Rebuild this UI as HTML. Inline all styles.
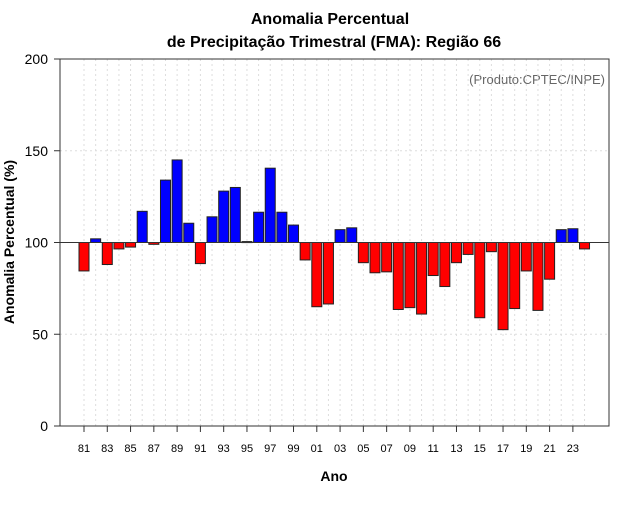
<!DOCTYPE html>
<html><head><meta charset="utf-8"><style>
body{margin:0;background:#fff;font-family:"Liberation Sans",sans-serif}
</style></head><body>
<svg id="c" width="640" height="500" xmlns="http://www.w3.org/2000/svg">
<rect width="640" height="500" fill="#fff"/>
<text x="330" y="24" text-anchor="middle" font-size="16" font-weight="bold">Anomalia Percentual</text>
<text x="334" y="47" text-anchor="middle" font-size="16" font-weight="bold">de Precipitação Trimestral (FMA): Região 66</text>
<text x="605" y="84" text-anchor="end" font-size="13" fill="#666">(Produto:CPTEC/INPE)</text>
<text x="334" y="481" text-anchor="middle" font-size="14" font-weight="bold">Ano</text>
<text transform="translate(14,242) rotate(-90)" text-anchor="middle" font-size="14" font-weight="bold">Anomalia Percentual (%)</text>
<g id="grid"></g><g id="bars"></g><g id="axes"></g>
</svg>
<script>
const years=[1981,1982,1983,1984,1985,1986,1987,1988,1989,1990,1991,1992,1993,1994,1995,1996,1997,1998,1999,2000,2001,2002,2003,2004,2005,2006,2007,2008,2009,2010,2011,2012,2013,2014,2015,2016,2017,2018,2019,2020,2021,2022,2023,2024];
const values=[84.5,102,88,96.5,97.5,117,99,134,145,110.5,88.5,114,128,130,100.5,116.5,140.5,116.5,109.5,90.5,65,66.5,107,108,89,83.5,84,63.5,64.5,61,82,76,89,93.5,59,95,52.5,64,84.5,63,80,107,107.5,96.5];
const yTicks=[0,50,100,150,200];
const NS="http://www.w3.org/2000/svg";
const X0=60,X1=609,Y0=426,Y1=59;
const yS=v=>Y0-(v/200)*(Y0-Y1);
const xS=yr=>84+(yr-1981)*11.64;
function mk(t,a,p){const e=document.createElementNS(NS,t);for(const k in a)e.setAttribute(k,a[k]);p.appendChild(e);return e;}
const grid=document.getElementById('grid'),bars=document.getElementById('bars'),axes=document.getElementById('axes');
years.forEach(yr=>{const l=mk('line',{x1:xS(yr),x2:xS(yr),y1:Y1,y2:Y0,stroke:'#ddd','stroke-dasharray':'2,3'},grid);

});
yTicks.forEach(v=>{if(v>0&&v<200&&v!==100){const l=mk('line',{x1:X0,x2:X1,y1:yS(v),y2:yS(v),stroke:'#ddd','stroke-dasharray':'2,3'},grid);

}});
years.forEach((yr,i)=>{const v=values[i];const top=yS(Math.max(v,100)),bot=yS(Math.min(v,100));
const r=mk('rect',{x:xS(yr)-5,y:top,width:10,height:Math.max(bot-top,1),fill:v>=100?'#0000ff':'#ff0000',stroke:'#222','stroke-width':1},bars);

});
const bl=mk('line',{x1:X0,x2:X1,y1:yS(100),y2:yS(100),stroke:'#333','stroke-width':1},axes);


const fr=mk('rect',{x:X0,y:Y1,width:X1-X0,height:Y0-Y1,fill:'none',stroke:'#333'},axes);


yTicks.forEach(v=>{mk('line',{x1:X0-6,x2:X0,y1:yS(v),y2:yS(v),stroke:'#333'},axes);
const t=mk('text',{x:X0-12,y:yS(v)+5,'text-anchor':'end','font-size':14},axes);t.textContent=v;

});
years.forEach(yr=>{if(yr%2===1){mk('line',{x1:xS(yr),x2:xS(yr),y1:Y0,y2:Y0+6,stroke:'#333'},axes);
const t=mk('text',{x:xS(yr),y:452,'text-anchor':'middle','font-size':11},axes);t.textContent=String(yr%100).padStart(2,'0');

}});
</script>
</body></html>
